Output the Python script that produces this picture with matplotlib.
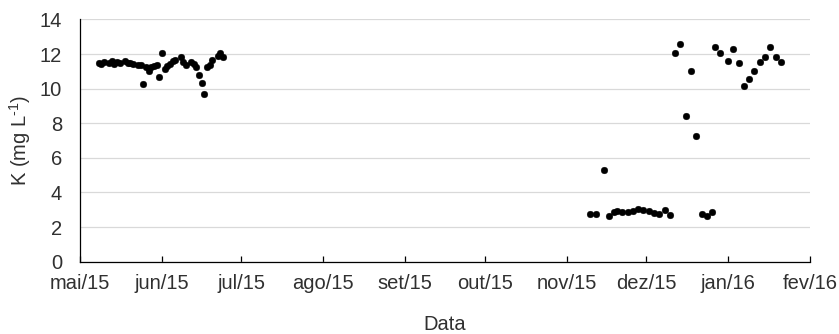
import matplotlib
matplotlib.use("Agg")
import matplotlib.pyplot as plt
import matplotlib.dates as mdates
import numpy as np

# Potassium concentration samples
sample_dates = [
    "2015-05-08", "2015-05-09", "2015-05-10", "2015-05-12", "2015-05-13",
    "2015-05-14", "2015-05-15", "2015-05-16", "2015-05-18", "2015-05-19",
    "2015-05-20", "2015-05-21", "2015-05-23", "2015-05-24", "2015-05-25",
    "2015-05-26", "2015-05-27", "2015-05-28", "2015-05-29", "2015-05-30",
    "2015-05-31", "2015-06-01", "2015-06-02", "2015-06-03", "2015-06-04",
    "2015-06-05", "2015-06-06", "2015-06-08", "2015-06-09", "2015-06-10",
    "2015-06-12", "2015-06-13", "2015-06-14", "2015-06-15", "2015-06-16",
    "2015-06-17", "2015-06-18", "2015-06-19", "2015-06-20", "2015-06-22",
    "2015-06-23", "2015-06-24",
    "2015-11-10", "2015-11-12", "2015-11-15", "2015-11-17", "2015-11-19",
    "2015-11-20", "2015-11-22", "2015-11-24", "2015-11-26", "2015-11-28",
    "2015-11-30", "2015-12-02", "2015-12-04", "2015-12-06", "2015-12-08",
    "2015-12-10", "2015-12-12", "2015-12-14", "2015-12-16", "2015-12-18",
    "2015-12-20", "2015-12-22", "2015-12-24", "2015-12-26", "2015-12-27",
    "2015-12-29", "2016-01-01", "2016-01-03", "2016-01-05", "2016-01-07",
    "2016-01-09", "2016-01-11", "2016-01-13", "2016-01-15", "2016-01-17",
    "2016-01-19", "2016-01-21",
]
k_values = [
    11.50, 11.42, 11.54, 11.46, 11.58,
    11.42, 11.54, 11.46, 11.58, 11.50,
    11.46, 11.42, 11.38, 11.35, 10.27,
    11.27, 11.04, 11.23, 11.31, 11.38,
    10.65, 12.08, 11.15, 11.31, 11.42,
    11.58, 11.65, 11.81, 11.54, 11.38,
    11.54, 11.42, 11.27, 10.81, 10.30,
    9.69, 11.23, 11.38, 11.65, 11.88,
    12.04, 11.85,
    2.73, 2.73, 5.29, 2.66, 2.85,
    2.94, 2.89, 2.89, 2.92, 3.06,
    2.98, 2.94, 2.79, 2.75, 2.98,
    2.67, 12.04, 12.58, 8.42, 11.04,
    7.26, 2.73, 2.66, 2.85, 12.42,
    12.04, 11.61, 12.29, 11.46, 10.15,
    10.54, 11.04, 11.52, 11.85, 12.42,
    11.85, 11.56,
]

month_ticks = [
    "2015-05-01", "2015-06-01", "2015-07-01", "2015-08-01", "2015-09-01",
    "2015-10-01", "2015-11-01", "2015-12-01", "2016-01-01", "2016-02-01",
]
month_labels = [
    "mai/15", "jun/15", "jul/15", "ago/15", "set/15",
    "out/15", "nov/15", "dez/15", "jan/16", "fev/16",
]
y_ticks = [0, 2, 4, 6, 8, 10, 12, 14]

text_color = "#303030"
plt.rcParams["font.family"] = ["Liberation Sans", "DejaVu Sans"]
plt.rcParams["mathtext.fontset"] = "custom"
plt.rcParams["mathtext.rm"] = "Liberation Sans"
plt.rcParams["mathtext.it"] = "Liberation Sans:italic"
plt.rcParams["mathtext.bf"] = "Liberation Sans:bold"

W, H = 839, 334
fig = plt.figure(figsize=(W / 100, H / 100), dpi=100)
ax = fig.add_axes([80 / W, (H - 261.6) / H, 730 / W, 242.2 / H])

x = mdates.date2num(np.array(sample_dates, dtype="datetime64[D]"))
xt = mdates.date2num(np.array(month_ticks, dtype="datetime64[D]"))

ax.plot(x, k_values, "o", color="black", ms=4.8, mec="black", mew=0.3,
        zorder=3)

ax.set_xlim(xt[0], xt[-1])
ax.set_ylim(0, 14)
ax.set_xticks(xt)
ax.set_xticklabels(month_labels)
ax.set_yticks(y_ticks)
ax.set_yticklabels([str(v) for v in y_ticks])

ax.set_axisbelow(True)
ax.yaxis.grid(True, color="#d9d9d9", linewidth=0.9)
ax.xaxis.grid(False)

for side in ("top", "right"):
    ax.spines[side].set_visible(False)
for side in ("left", "bottom"):
    ax.spines[side].set_color("black")
    ax.spines[side].set_linewidth(0.9)

ax.tick_params(axis="x", direction="in", length=4, width=0.9, color="black",
               pad=9, labelsize=14.5, labelcolor=text_color)
ax.tick_params(axis="y", length=0, pad=13, labelsize=14.5,
               labelcolor=text_color)

ax.set_ylabel(r"K (mg L$^{\text{-1}}$)", fontsize=14.5, color=text_color,
              va="center")
ax.yaxis.set_label_coords(-60 / 730, 0.5)
ax.set_xlabel("Data", fontsize=14.5, color=text_color, va="center")
ax.xaxis.set_label_coords(0.5, -62.4 / 242.2)

fig.savefig("out.png", dpi=100)
